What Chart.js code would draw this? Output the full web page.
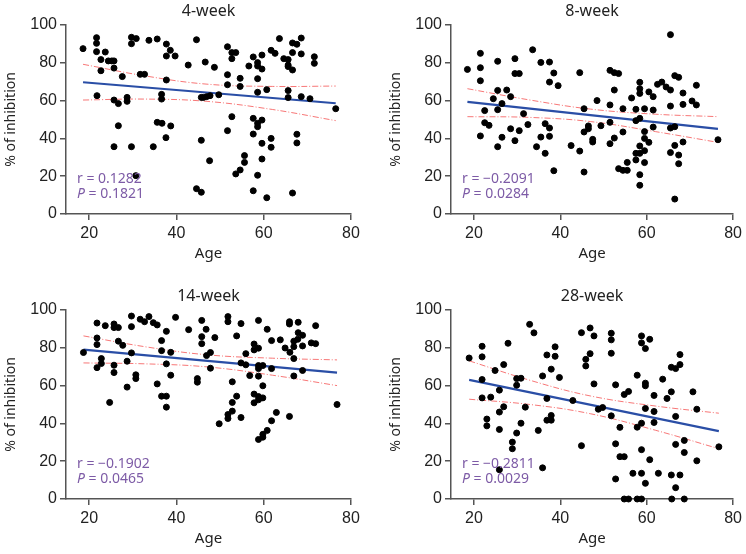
<!DOCTYPE html>
<html>
<head>
<meta charset="utf-8">
<script src="https://cdn.jsdelivr.net/npm/chart.js@4"></script>
<style>
  body { margin: 0; background: #fff; width: 746px; height: 554px; position: relative; overflow: hidden; }
  canvas { position: absolute; }
</style>
</head>
<body>
<canvas id="c1" width="373" height="266" style="left:0;top:0"></canvas>
<canvas id="c2" width="361" height="266" style="left:385px;top:0"></canvas>
<canvas id="c3" width="373" height="266" style="left:0;top:285px"></canvas>
<canvas id="c4" width="361" height="266" style="left:385px;top:285px"></canvas>
<script>
// tick labels
var xTicks = [20, 40, 60, 80];
var yTicks = [0, 20, 40, 60, 80, 100];

// 4-week
var age4 = [18.6,21.7,21.7,21.7,23.7,22.7,22.7,24.4,25.2,25.7,25.7,27.6,21.8,25.7,26.7,28.7,28.7,26.7,25.7,29.7,
  29.7,29.7,30.8,31.7,32.7,33.7,35.6,37.7,38.6,37.7,39.7,37.7,36.6,36.6,35.6,36.7,38.7,37.6,34.7,30.7,
  42.7,44.6,46.6,45.7,46.2,45.7,47.6,44.6,45.7,46.9,47.7,49.7,48.7,51.7,52.7,53.6,52.7,51.7,51.7,54.6,
  54.6,52.7,51.7,53.6,54.6,55.6,55.6,56.6,57.6,58.6,58.6,59.6,59.6,58.6,58.6,60.7,57.6,58.6,58.6,59.6,
  57.6,59.6,61.7,61.7,59.6,58.6,57.6,60.7,61.7,62.6,63.6,64.6,65.6,65.6,65.6,66.6,66.6,67.6,68.6,66.6,
  68.6,65.6,65.6,68.6,70.6,67.6,67.6,66.6,71.6,71.6,76.5];
var inh4 = [87.5,93.3,90.3,85.9,85.7,81.7,75.8,81,81,81,77.2,72.7,62.6,60.3,58.4,61.7,59.6,46.7,35.6,35.6,
  93.5,90.1,92.8,73.9,73.9,91.9,92.6,89.9,86.6,83.6,83.6,70.9,63.3,60.8,48.5,48,46.6,40.4,35.6,20.3,
  78.8,92.2,80.4,61.7,61.7,39,28.2,13.4,11.5,62.1,62.6,63.1,77.6,88.5,85.4,85.4,82.2,73.7,68.4,71.8,
  67.5,51.5,44.1,21.2,23.3,30.9,27.3,78.3,83.1,80.1,78.3,84.1,76.7,71.6,64.4,65.8,50.6,48,46.2,49.7,
  42.3,37.4,40,35.3,29.1,20.5,12.3,8.6,86.6,85,92.8,82.2,81.7,78.8,78,76.2,90.5,89.8,93.1,85.4,
  84.7,65.3,61.6,62.1,61,42.2,37.6,11.1,83.2,79.7,55.7];
var fitAge4 = [18.6, 76.5];
var fit4 = [69.7, 58.6];
var bandAge4 = [18.6, 33, 47, 62, 76.5];
var upper4 = [79.2, 73.0, 68.7, 67.5, 67.7];
var lower4 = [60.3, 60.8, 59.6, 55.3, 49.4];

// 8-week
var age8 = [18.5,21.5,21.5,21.5,21.5,22.5,22.5,23.5,24.5,25.5,25.5,25.5,26.5,25.5,26.5,27.6,28.5,28.5,29.5,29.5,
  30.5,29.5,30.5,31.5,32.5,33.6,34.5,35.5,35.5,36.5,36.5,37.5,37.5,37.5,37.5,38.5,38.5,39.5,42.5,44.5,
  44.5,45.5,45.5,45.5,46.5,46.5,47.5,47.5,48.5,49.4,51.5,52.5,53.5,52.5,51.5,51.5,51.5,52.5,54.5,54.5,
  53.5,54.5,55.5,55.5,56.5,57.5,57.5,57.5,57.5,58.4,58.4,58.4,58.4,58.4,58.4,58.4,58.4,59.5,59.5,59.5,
  59.5,59.5,60.5,60.5,61.5,61.5,61.5,62.5,63.5,64.5,65.5,65.5,65.5,65.5,65.5,66.5,67.4,66.5,66.5,66.5,
  67.4,67.4,68.4,68.4,68.4,70.5,71.5,71.5,76.5];
var inh8 = [76.5,85,77.4,70.5,41.3,54.7,48.3,46.9,61,80.8,65.4,55.2,58.4,35.6,40.6,65.6,62.1,45.1,82.2,74.3,
  74.3,38.8,44.1,53.1,47.3,86.9,35.6,80.2,40.7,47.8,32.1,80.4,69.8,45.5,41.1,74.6,22.9,67.9,36.2,74.8,
  33.3,55.7,43.4,22.2,46.6,45.1,39.5,38.1,60,46.7,76,74.8,74.3,65.6,57.7,48.5,37.2,40.2,43.4,55.7,
  24,23.1,23.1,27.3,61.4,55.4,49.4,32.1,28.6,69.7,66.3,63.8,50.6,36,32.1,20.8,15.2,55.7,43.6,40,
  33.5,27.2,64.6,37.9,62.1,55,46,68.6,69.8,67.2,94.9,65.6,57.1,45.5,32.5,73.2,72.3,46.2,36.3,7.9,
  31.2,26.6,64,58,38.1,59.8,68.1,57.7,39.3];
var fitAge8 = [18.5, 76.5];
var fit8 = [59.3, 45.0];
var bandAge8 = [18.5, 33, 47, 62, 76.5];
var upper8 = [66.3, 60.3, 55.5, 52.8, 51.5];
var lower8 = [51.5, 51.1, 48.9, 43.6, 37.9];

// 14-week
var age14 = [18.7,21.8,21.8,21.8,21.8,22.8,22.8,23.7,24.7,25.7,25.7,26.7,26.7,25.7,25.7,27.7,28.7,28.7,29.7,29.7,
  29.7,30.7,30.7,31.7,32.7,33.7,34.7,35.6,36.6,37.7,36.6,38.7,37.7,35.6,38.7,36.6,37.7,37.7,39.8,42.8,
  44.8,44.8,45.8,46.8,45.8,45.8,46.9,47.8,47.8,48.8,51.8,51.8,54.8,53.8,55.9,54.8,55.9,52.8,53.8,52.8,
  52.8,51.8,51.8,54.8,49.8,56.8,57.8,57.8,58.8,58.8,58.8,58.8,59.8,58.8,59.8,57.8,58.8,59.8,57.8,58.8,
  60.8,61.8,61.8,62.9,61.8,60.8,59.8,59.8,58.8,63.8,64.9,65.9,65.9,67.9,67.9,68.9,67.8,66.9,66.9,66,
  66.9,68.9,66.9,68.9,65.9,70.9,71.9,71.9,76.8];
var inh14 = [77.5,93.1,85.2,81.7,69.5,74.3,71.7,91.7,51.1,92.6,90.7,90.7,83.5,70.8,66.9,81.3,72.9,59.2,96.8,91.2,
  77.3,65.7,63.7,95.1,93.8,96.5,93.3,92.1,83.8,88.7,78.5,77.6,71.5,60.9,65.5,54.4,54.4,48.6,96.1,89.6,
  63.7,61.8,94.5,89.8,85.9,82.2,75.9,77.5,69.2,85.4,96.5,93.8,92.8,86.3,76.9,72,71,62,54.4,51.1,
  46.5,44.7,42.6,43.1,39.8,65.3,82,78.9,79.8,94.5,70.6,69,70.6,65,59.9,55.5,54.2,53.5,50.9,52.5,
  89.8,83.8,69,45.8,41.4,36.3,34.2,32.7,31.5,84.2,79.9,93.8,92.6,93.5,88,86.6,84.5,83.5,80.6,77.6,
  74.3,81,65.1,68,43.7,82.6,82.2,91.7,50];
var fitAge14 = [18.7, 76.8];
var fit14 = [79.0, 66.9];
var bandAge14 = [18.7, 33, 47, 62, 76.8];
var upper14 = [86.3, 80.5, 76.3, 74.5, 73.6];
var lower14 = [72.0, 71.5, 69.9, 65.5, 60.0];

// 28-week
var age28 = [18.9,21.9,21.9,21.9,21.9,23,23,23.9,24.9,25.9,25.9,25.9,25.9,26.9,26.9,27.9,28.9,28.9,29.9,29.9,
  29.9,30.9,30.9,31.9,32.9,33.9,34.9,35.9,35.9,36.9,36.9,36.9,37.9,37.9,37.9,38.8,38.8,39.8,42.9,44.9,
  44.9,45.9,45.9,46.9,46.9,47.8,47.8,48.8,49.8,51.8,51.8,51.8,51.8,52.8,52.8,52.8,53.8,53.8,54.8,54.8,
  55.8,54.8,55.8,57.8,58.8,65.8,68.7,56.8,57.8,58.8,58.8,59.7,60.7,59.7,59.7,59.7,58.8,57.8,58.8,58.8,
  59.7,60.7,61.7,61.7,61.7,62.7,63.7,64.7,65.7,65.7,65.7,66.7,67.7,67.7,66.7,66.7,67.7,66.7,68.7,68.7,
  70.7,71.6,71.6,76.7];
var inh28 = [74.6,80.8,75.2,63.2,53.5,42.3,38.7,53.9,68,57.6,46,36.8,15.5,48.8,71.1,82.4,30.1,26.6,34.9,60.2,
  63.7,63.9,40.1,48.6,92.4,87.9,36.3,65.1,16.5,76.2,53.2,41.7,68.7,44.2,41.7,80.5,75.5,64.3,52.1,88,
  28.2,73.9,70.4,90.5,76.9,86.3,60.9,47.5,48.4,87.7,84.2,77.1,44,60.4,29.2,10.6,37.9,22.4,22.4,55.3,
  56.9,0,0,0,0,0,0,13.6,65.5,86.3,82.6,79.6,84.5,61.3,59.9,47.9,40.1,38,26.1,13.6,
  8.3,20.8,54.8,46.3,40.5,13.6,63.4,53.2,69.7,56.7,12.7,69,71.1,76.4,43.7,28.9,12.7,6,31,24.6,
  56.7,47.5,20.2,27.6];
var fitAge28 = [18.9, 76.7];
var fit28 = [63.0, 35.9];
var bandAge28 = [18.9, 33, 47, 62, 76.7];
var upper28 = [73.1, 62.8, 54.5, 49.2, 45.4];
var lower28 = [52.8, 50.0, 45.1, 36.4, 26.6];

var panels = [
  { id: 'c1', title: '4-week', r: 'r = 0.1282', p: '0.1821', ages: age4, vals: inh4, fx: fitAge4, fy: fit4, bx: bandAge4, up: upper4, lo: lower4 },
  { id: 'c2', title: '8-week', r: 'r = \u22120.2091', p: '0.0284', ages: age8, vals: inh8, fx: fitAge8, fy: fit8, bx: bandAge8, up: upper8, lo: lower8 },
  { id: 'c3', title: '14-week', r: 'r = \u22120.1902', p: '0.0465', ages: age14, vals: inh14, fx: fitAge14, fy: fit14, bx: bandAge14, up: upper14, lo: lower14 },
  { id: 'c4', title: '28-week', r: 'r = \u22120.2811', p: '0.0029', ages: age28, vals: inh28, fx: fitAge28, fy: fit28, bx: bandAge28, up: upper28, lo: lower28 }
];

function xy(xs, ys) {
  return xs.map(function (x, i) { return { x: x, y: ys[i] }; });
}

var purple = '#7d5ba6';
var axisColor = '#555';

var panelText = {
  id: 'panelText',
  afterDraw: function (chart, args, opts) {
    var ctx = chart.ctx, a = chart.chartArea;
    ctx.save();
    ctx.fillStyle = '#222';
    ctx.font = '16px "Noto Sans"';
    ctx.textAlign = 'center';
    ctx.textBaseline = 'middle';
    ctx.fillText(opts.title, (a.left + a.right) / 2, 11);
    ctx.fillStyle = purple;
    ctx.textAlign = 'left';
    ctx.font = '14px "Noto Sans"';
    ctx.fillText(opts.r, a.left + 11, a.top + 154);
    ctx.font = 'italic 14px "Noto Sans"';
    ctx.fillText('P', a.left + 11, a.top + 169);
    var w = ctx.measureText('P').width;
    ctx.font = '14px "Noto Sans"';
    ctx.fillText(' = ' + opts.p, a.left + 11 + w, a.top + 169);
    ctx.restore();
  }
};

panels.forEach(function (pn) {
  var cv = document.getElementById(pn.id);
  var redLine = {
    borderColor: 'rgba(245,85,85,0.8)', borderWidth: 1, borderDash: [6, 2, 1, 2],
    pointRadius: 0, tension: 0.4, fill: false, showLine: true
  };
  new Chart(cv, {
    type: 'scatter',
    data: {
      datasets: [
        {
          data: xy(pn.ages, pn.vals), backgroundColor: '#000', borderColor: '#000',
          pointRadius: 3, pointHoverRadius: 3, clip: false, order: 0
        },
        {
          data: xy(pn.fx, pn.fy), showLine: true, borderColor: '#2a4ea6', borderWidth: 2.2,
          pointRadius: 0, order: 1
        },
        Object.assign({ data: xy(pn.bx, pn.up), order: 2 }, redLine),
        Object.assign({ data: xy(pn.bx, pn.lo), order: 2 }, redLine)
      ]
    },
    options: {
      responsive: false,
      animation: false,
      events: [],
      layout: { padding: { left: 0, top: 25, right: cv.width - 351, bottom: 0 } },
      plugins: {
        legend: { display: false },
        tooltip: { enabled: false },
        panelText: { title: pn.title, r: pn.r, p: pn.p }
      },
      scales: {
        x: {
          type: 'linear', min: 14.7, max: 80,
          afterBuildTicks: function (ax) { ax.ticks = xTicks.map(function (v) { return { value: v }; }); },
          afterFit: function (ax) { ax.height = 52; },
          grid: { drawOnChartArea: false, drawTicks: true, tickLength: 6, color: axisColor, lineWidth: 1.5 },
          border: { display: true, color: axisColor, width: 1.5 },
          ticks: { color: '#222', font: { family: 'Liberation Sans', size: 16 }, padding: 4, maxRotation: 0 },
          title: { display: true, text: 'Age', color: '#222', font: { family: 'Noto Sans', size: 15 }, padding: { top: 2, bottom: 3 } }
        },
        y: {
          type: 'linear', min: 0, max: 100,
          afterBuildTicks: function (ax) { ax.ticks = yTicks.map(function (v) { return { value: v }; }); },
          afterFit: function (ax) { ax.width = 66; },
          grid: { drawOnChartArea: false, drawTicks: true, tickLength: 6, color: axisColor, lineWidth: 1.5 },
          border: { display: true, color: axisColor, width: 1.5 },
          ticks: { color: '#222', font: { family: 'Liberation Sans', size: 16 }, padding: 3 },
          title: { display: true, text: '% of inhibition', color: '#222', font: { family: 'Noto Sans', size: 14 }, padding: { top: 3, bottom: 2 } }
        }
      }
    },
    plugins: [panelText]
  });
});
</script>
</body>
</html>
